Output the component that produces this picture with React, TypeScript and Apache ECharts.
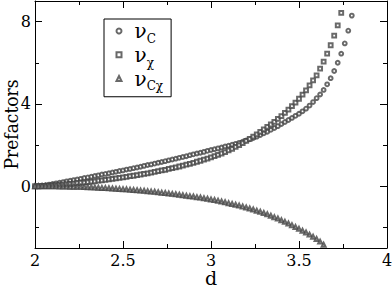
import React, { useEffect, useRef } from "react";
import * as echarts from "echarts";

const dC = [2.00,2.02,2.04,2.06,2.08,2.10,2.12,2.14,2.16,2.18,2.20,2.22,2.24,2.26,2.28,2.30,2.32,2.34,2.36,2.38,2.40,2.42,2.44,2.46,2.48,2.50,2.52,2.54,2.56,2.58,2.60,2.62,2.64,2.66,2.68,2.70,2.72,2.74,2.76,2.78,2.80,2.82,2.84,2.86,2.88,2.90,2.92,2.94,2.96,2.98,3.00,3.02,3.04,3.06,3.08,3.10,3.12,3.14,3.16,3.18,3.20,3.22,3.24,3.26,3.28,3.30,3.32,3.34,3.36,3.38,3.40,3.42,3.44,3.46,3.48,3.50,3.52,3.54,3.56,3.58,3.60,3.62,3.64,3.66,3.68,3.70,3.72,3.74,3.76,3.78,3.80];

const nuC = [0.00,0.01,0.03,0.05,0.08,0.11,0.14,0.17,0.20,0.24,0.27,0.30,0.33,0.36,0.40,0.43,0.46,0.50,0.53,0.57,0.60,0.63,0.67,0.70,0.74,0.77,0.81,0.84,0.88,0.91,0.95,0.99,1.03,1.06,1.10,1.14,1.18,1.22,1.26,1.30,1.34,1.38,1.42,1.46,1.51,1.55,1.59,1.63,1.67,1.72,1.76,1.80,1.84,1.88,1.93,1.97,2.02,2.06,2.11,2.16,2.22,2.28,2.34,2.41,2.49,2.57,2.65,2.74,2.83,2.92,3.02,3.12,3.22,3.32,3.42,3.52,3.64,3.77,3.92,4.09,4.28,4.46,4.68,4.95,5.25,5.60,6.00,6.44,6.94,7.56,8.29];

const nuChi = [0.00,0.00,0.01,0.02,0.03,0.04,0.05,0.07,0.08,0.10,0.11,0.13,0.15,0.17,0.18,0.20,0.22,0.24,0.27,0.29,0.31,0.33,0.36,0.38,0.41,0.43,0.46,0.49,0.51,0.54,0.57,0.60,0.63,0.66,0.70,0.73,0.77,0.80,0.84,0.88,0.92,0.96,1.00,1.05,1.09,1.14,1.19,1.24,1.29,1.34,1.40,1.46,1.52,1.59,1.66,1.74,1.82,1.91,2.00,2.10,2.20,2.30,2.41,2.52,2.64,2.76,2.88,3.00,3.13,3.27,3.41,3.56,3.72,3.89,4.06,4.25,4.45,4.66,4.90,5.14,5.39,5.71,6.05,6.44,6.85,7.32,7.82,8.42];

const nuCChi = [0.00,0.00,0.00,0.00,0.00,0.00,0.00,-0.01,-0.01,-0.01,-0.02,-0.02,-0.03,-0.03,-0.04,-0.05,-0.05,-0.06,-0.07,-0.08,-0.09,-0.10,-0.11,-0.12,-0.13,-0.14,-0.15,-0.17,-0.18,-0.19,-0.21,-0.22,-0.24,-0.26,-0.27,-0.29,-0.31,-0.33,-0.35,-0.37,-0.39,-0.41,-0.44,-0.46,-0.48,-0.50,-0.53,-0.55,-0.58,-0.61,-0.64,-0.67,-0.70,-0.74,-0.78,-0.82,-0.86,-0.90,-0.94,-0.98,-1.03,-1.08,-1.13,-1.19,-1.24,-1.30,-1.36,-1.43,-1.50,-1.57,-1.65,-1.73,-1.81,-1.89,-1.98,-2.07,-2.16,-2.25,-2.35,-2.45,-2.56,-2.69,-2.84];

const xMajor = [2, 2.5, 3, 3.5, 4];
const xMinor = [2.25, 2.75, 3.25, 3.75];
const yMajor = [0, 4, 8];
const yMinor = [-2, 2, 6];
const seriesNames = ["νC", "νχ", "νCχ"];
const legendSubs = ["C", "χ", "Cχ"];

const FONT = "DejaVu Serif";
const FONT_COND = "'DejaVu Serif Condensed', 'DejaVu Serif'";

function zip(xs: number[], ys: number[]) {
  return ys.map((y, i) => [xs[i], y]);
}

export default function App() {
  const ref = useRef<HTMLDivElement>(null);
  useEffect(() => {
    if (!ref.current) return;
    const chart = echarts.init(ref.current, null, { renderer: "svg" });
    const line = { show: true, onZero: false, lineStyle: { color: "#000", width: 1 } };
    const noLine = { show: false, onZero: false };
    const xBase = { type: "value", min: 2, max: 4, splitLine: { show: false } };
    const yBase = { type: "value", min: -3, max: 9, splitLine: { show: false } };
    const markerStyle = { color: "#444", borderWidth: 0.7 };
    const tick = (len: number, vals: number[]) => ({
      show: true, inside: true, length: len, customValues: vals, lineStyle: { color: "#000", width: 1 },
    });
    chart.setOption({
      animation: false,
      textStyle: { fontFamily: FONT },
      grid: { left: 35, right: 5, top: 1, bottom: 39, containLabel: false, outerBoundsMode: "none" },
      xAxis: [
        {
          ...xBase,
          position: "bottom",
          axisLine: line,
          axisTick: tick(7, xMajor),
          axisLabel: { fontFamily: FONT, fontSize: 16, lineHeight: 16, color: "#000", margin: 4, customValues: xMajor, formatter: (v: number) => String(v) },
          name: "d",
          nameLocation: "middle",
          nameGap: 21,
          nameMoveOverlap: false,
          nameTextStyle: { fontFamily: FONT, fontSize: 19, lineHeight: 18, color: "#000" },
        },
        { ...xBase, position: "bottom", axisLine: noLine, axisTick: tick(4, xMinor), axisLabel: { show: false } },
        { ...xBase, position: "top", axisLine: line, axisTick: tick(7, xMajor), axisLabel: { show: false } },
        { ...xBase, position: "top", axisLine: noLine, axisTick: tick(4, xMinor), axisLabel: { show: false } },
      ],
      yAxis: [
        {
          ...yBase,
          position: "left",
          axisLine: line,
          axisTick: tick(7, yMajor),
          axisLabel: { fontFamily: FONT, fontSize: 16, color: "#000", margin: 4, customValues: yMajor, formatter: (v: number) => String(v) },
          name: "Prefactors",
          nameLocation: "middle",
          nameGap: 15,
          nameRotate: 90,
          nameMoveOverlap: false,
          nameTextStyle: { fontFamily: FONT_COND, fontSize: 19, color: "#000" },
        },
        { ...yBase, position: "left", axisLine: noLine, axisTick: tick(4, yMinor), axisLabel: { show: false } },
        { ...yBase, position: "right", axisLine: line, axisTick: tick(7, yMajor), axisLabel: { show: false } },
        { ...yBase, position: "right", axisLine: noLine, axisTick: tick(4, yMinor), axisLabel: { show: false } },
      ],
      legend: {
        orient: "vertical",
        left: 104,
        top: 19,
        borderColor: "#000",
        borderWidth: 1,
        borderRadius: 0,
        backgroundColor: "#fff",
        padding: [2, 8, 4.5, 11.5],
        itemGap: 0,
        itemWidth: 5,
        itemHeight: 5,
        data: seriesNames,
        formatter: (name: string) => `{nu|ν}{sub|${legendSubs[seriesNames.indexOf(name)]}}`,
        textStyle: {
          color: "#000",
          fontFamily: FONT,
          rich: {
            nu: { fontFamily: FONT, fontSize: 20, color: "#000", lineHeight: 27.5, padding: [0, 0, 0, 8] },
            sub: { fontFamily: FONT, fontSize: 12, color: "#000", lineHeight: 8, verticalAlign: "bottom" },
          },
        },
      },
      series: [
        { name: seriesNames[0], type: "scatter", symbol: "emptyCircle", symbolSize: 3.8, itemStyle: markerStyle, data: zip(dC, nuC), clip: true },
        { name: seriesNames[1], type: "scatter", symbol: "emptyRect", symbolSize: 3.8, itemStyle: markerStyle, data: zip(dC, nuChi), clip: true },
        { name: seriesNames[2], type: "scatter", symbol: "emptyTriangle", symbolSize: 4, itemStyle: markerStyle, data: zip(dC, nuCChi), clip: true },
      ],
    });
    return () => chart.dispose();
  }, []);
  return <div ref={ref} style={{ width: 392, height: 287, position: "absolute", left: 0, top: 0 }} />;
}
